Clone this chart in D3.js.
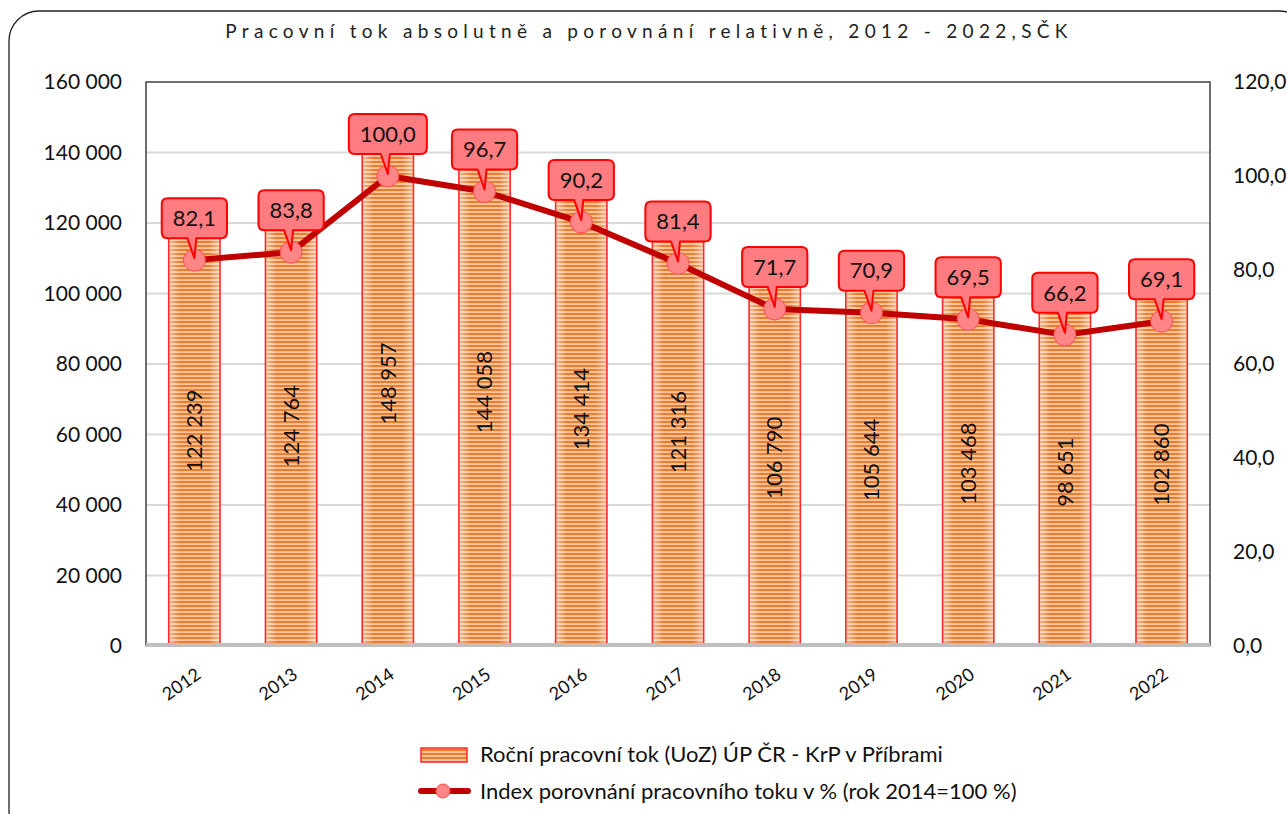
<!DOCTYPE html>
<html>
<head>
<meta charset="utf-8">
<script src="https://cdn.jsdelivr.net/npm/d3@7"></script>
<style>
  body { margin: 0; background: #fff; }
  svg { display: block; font-family: Lato, "Open Sans", sans-serif; }
</style>
</head>
<body>
<svg width="1287" height="814"></svg>
<script>
var years = ["2012", "2013", "2014", "2015", "2016", "2017", "2018", "2019", "2020", "2021", "2022"];
var flowValues = [122239, 124764, 148957, 144058, 134414, 121316, 106790, 105644, 103468, 98651, 102860];
var indexValues = [82.1, 83.8, 100.0, 96.7, 90.2, 81.4, 71.7, 70.9, 69.5, 66.2, 69.1];
var leftTicks = [0, 20000, 40000, 60000, 80000, 100000, 120000, 140000, 160000];
var rightTicks = [0, 20, 40, 60, 80, 100, 120];

var chartTitle = "Pracovní tok absolutně a porovnání relativně, 2012 - 2022,SČK";
var legendBars = "Roční pracovní tok (UoZ) ÚP ČR - KrP v Příbrami";
var legendLine = "Index porovnání pracovního toku v % (rok 2014=100 %)";

var cz = d3.formatLocale({decimal: ",", thousands: " ", grouping: [3], currency: ["", " Kč"]});
var fmtInt = cz.format(",d"),
    fmt1 = cz.format(".1f");

var svg = d3.select("svg"),
    width = +svg.attr("width"),
    height = +svg.attr("height");

var plot = {left: 146, right: 1210, top: 82, bottom: 646};

var defs = svg.append("defs");
var pat = defs.append("pattern")
    .attr("id", "stripes")
    .attr("patternUnits", "userSpaceOnUse")
    .attr("width", 8).attr("height", 4);
pat.append("rect").attr("width", 8).attr("height", 4).attr("fill", "#f9c49c");
pat.append("rect").attr("y", 1).attr("width", 8).attr("height", 2).attr("fill", "#ee7a2c");

var shine = defs.append("linearGradient").attr("id", "shine");
shine.append("stop").attr("offset", "0").attr("stop-color", "#fff").attr("stop-opacity", 0.5);
shine.append("stop").attr("offset", "0.22").attr("stop-color", "#fff").attr("stop-opacity", 0);
shine.append("stop").attr("offset", "0.78").attr("stop-color", "#fff").attr("stop-opacity", 0);
shine.append("stop").attr("offset", "1").attr("stop-color", "#fff").attr("stop-opacity", 0.5);

// outer frame
svg.append("rect")
    .attr("x", 9).attr("y", 11)
    .attr("width", 1300).attr("height", 830)
    .attr("rx", 30).attr("ry", 30)
    .attr("fill", "#fff")
    .attr("stroke", "#222").attr("stroke-width", 1.3);

svg.append("text")
    .attr("x", 649).attr("y", 38)
    .attr("text-anchor", "middle")
    .style("font-size", "19px")
    .style("letter-spacing", "5.3px")
    .attr("fill", "#222")
    .text(chartTitle);

var x = d3.scaleBand().domain(years).range([plot.left, plot.right]).paddingInner(0.47).paddingOuter(0.235);
var y = d3.scaleLinear().domain([0, 160000]).range([plot.bottom, plot.top]);
var y2 = d3.scaleLinear().domain([0, 120]).range([plot.bottom, plot.top]);

// gridlines
svg.append("g")
    .selectAll("line")
    .data(leftTicks.slice(1, -1))
    .enter().append("line")
    .attr("x1", plot.left).attr("x2", plot.right)
    .attr("y1", function(d) { return y(d); })
    .attr("y2", function(d) { return y(d); })
    .attr("stroke", "#d9d9d9").attr("stroke-width", 2);

// plot frame
svg.append("path")
    .attr("d", "M" + plot.left + "," + plot.bottom + "V" + plot.top + "H" + plot.right + "V" + plot.bottom)
    .attr("fill", "none")
    .attr("stroke", "#404040").attr("stroke-width", 1.5);

// left axis
var yAxis = svg.append("g")
    .attr("transform", "translate(" + plot.left + ",0)")
    .call(d3.axisLeft(y).tickValues(leftTicks).tickFormat(fmtInt).tickSize(0).tickPadding(24));
yAxis.select(".domain").remove();
yAxis.selectAll("text").style("font-size", "21px").attr("fill", "#111").style("font-family", "Lato, sans-serif");

// right axis
var y2Axis = svg.append("g")
    .attr("transform", "translate(" + plot.right + ",0)")
    .call(d3.axisRight(y2).tickValues(rightTicks).tickFormat(fmt1).tickSize(0).tickPadding(23));
y2Axis.select(".domain").remove();
y2Axis.selectAll("text").style("font-size", "21px").attr("fill", "#111").style("font-family", "Lato, sans-serif");

// bars
var bars = svg.append("g").selectAll("g")
    .data(years)
    .enter().append("g");

bars.append("rect")
    .attr("x", function(d) { return x(d); })
    .attr("y", function(d, i) { return y(flowValues[i]); })
    .attr("width", x.bandwidth())
    .attr("height", function(d, i) { return y(0) - y(flowValues[i]); })
    .attr("fill", "url(#stripes)");
bars.append("rect")
    .attr("x", function(d) { return x(d); })
    .attr("y", function(d, i) { return y(flowValues[i]); })
    .attr("width", x.bandwidth())
    .attr("height", function(d, i) { return y(0) - y(flowValues[i]); })
    .attr("fill", "url(#shine)")
    .attr("stroke", "#ff2a2a").attr("stroke-width", 1.6);

// bottom axis line
svg.append("line")
    .attr("x1", plot.left).attr("x2", plot.right)
    .attr("y1", plot.bottom - 1).attr("y2", plot.bottom - 1)
    .attr("stroke", "#bfbfbf").attr("stroke-width", 4);

// x labels
svg.append("g").selectAll("text")
    .data(years)
    .enter().append("text")
    .attr("transform", function(d) {
        return "translate(" + (x(d) + x.bandwidth() / 2 + 4) + "," + 672 + ") rotate(-35)";
    })
    .attr("text-anchor", "end")
    .attr("dy", "0.35em")
    .style("font-size", "18px")
    .attr("fill", "#111")
    .text(function(d) { return d; });

// values inside bars
bars.append("text")
    .attr("transform", function(d, i) {
        var cx = x(d) + x.bandwidth() / 2,
            cy = (y(flowValues[i]) + y(0)) / 2;
        return "translate(" + cx + "," + cy + ") rotate(-90)";
    })
    .attr("text-anchor", "middle")
    .attr("dy", "0.35em")
    .style("font-size", "22px")
    .attr("fill", "#111")
    .text(function(d, i) { return fmtInt(flowValues[i]); });

// index line
var pts = years.map(function(d, i) {
    return [x(d) + x.bandwidth() / 2, y2(indexValues[i])];
});

svg.append("path")
    .datum(pts)
    .attr("d", d3.line())
    .attr("fill", "none")
    .attr("stroke", "#c00000")
    .attr("stroke-width", 6)
    .attr("stroke-linejoin", "round");

svg.append("g").selectAll("circle")
    .data(pts)
    .enter().append("circle")
    .attr("cx", function(d) { return d[0]; })
    .attr("cy", function(d) { return d[1]; })
    .attr("r", 11)
    .attr("fill", "#ff8686")
    .attr("stroke", "#ff4d4d").attr("stroke-width", 1);

// callouts
var callouts = svg.append("g").selectAll("g")
    .data(pts)
    .enter().append("g");

callouts.each(function(p, i) {
    var g = d3.select(this);
    var path = g.append("path");
    var t = g.append("text")
        .attr("x", p[0]).attr("y", p[1] - 42)
        .attr("text-anchor", "middle")
        .attr("dy", "0.35em")
        .style("font-size", "22px")
        .attr("fill", "#111")
        .text(fmt1(indexValues[i]));
    var w = t.node().getComputedTextLength() + 22,
        h = 40, r = 6,
        x0 = p[0] - w / 2, x1 = p[0] + w / 2,
        y0 = p[1] - 62, y1 = y0 + h;
    var d = "M" + (x0 + r) + "," + y0 +
        "H" + (x1 - r) + "Q" + x1 + "," + y0 + " " + x1 + "," + (y0 + r) +
        "V" + (y1 - r) + "Q" + x1 + "," + y1 + " " + (x1 - r) + "," + y1 +
        "H" + (p[0] + 2) + "L" + p[0] + "," + (p[1] - 2) + "L" + (p[0] - 7) + "," + y1 +
        "H" + (x0 + r) + "Q" + x0 + "," + y1 + " " + x0 + "," + (y1 - r) +
        "V" + (y0 + r) + "Q" + x0 + "," + y0 + " " + (x0 + r) + "," + y0 + "Z";
    path.attr("d", d)
        .attr("fill", "#ff7c80")
        .attr("stroke", "#ff0000").attr("stroke-width", 2)
        .attr("stroke-linejoin", "round");
});

// legend
var leg = svg.append("g");
leg.append("rect")
    .attr("x", 421).attr("y", 748).attr("width", 46).attr("height", 14)
    .attr("fill", "url(#stripes)")
    .attr("stroke", "#ff2a2a").attr("stroke-width", 1.5);
leg.append("text")
    .attr("x", 480).attr("y", 754).attr("dy", "0.35em")
    .style("font-size", "22px").attr("fill", "#111")
    .text(legendBars);
leg.append("line")
    .attr("x1", 421).attr("x2", 468).attr("y1", 791).attr("y2", 791)
    .attr("stroke", "#c00000").attr("stroke-width", 6).attr("stroke-linecap", "round");
leg.append("circle")
    .attr("cx", 443).attr("cy", 791).attr("r", 7)
    .attr("fill", "#ff8686").attr("stroke", "#ff4d4d");
leg.append("text")
    .attr("x", 480).attr("y", 791).attr("dy", "0.35em")
    .style("font-size", "22px").attr("fill", "#111")
    .text(legendLine);
</script>
</body>
</html>
